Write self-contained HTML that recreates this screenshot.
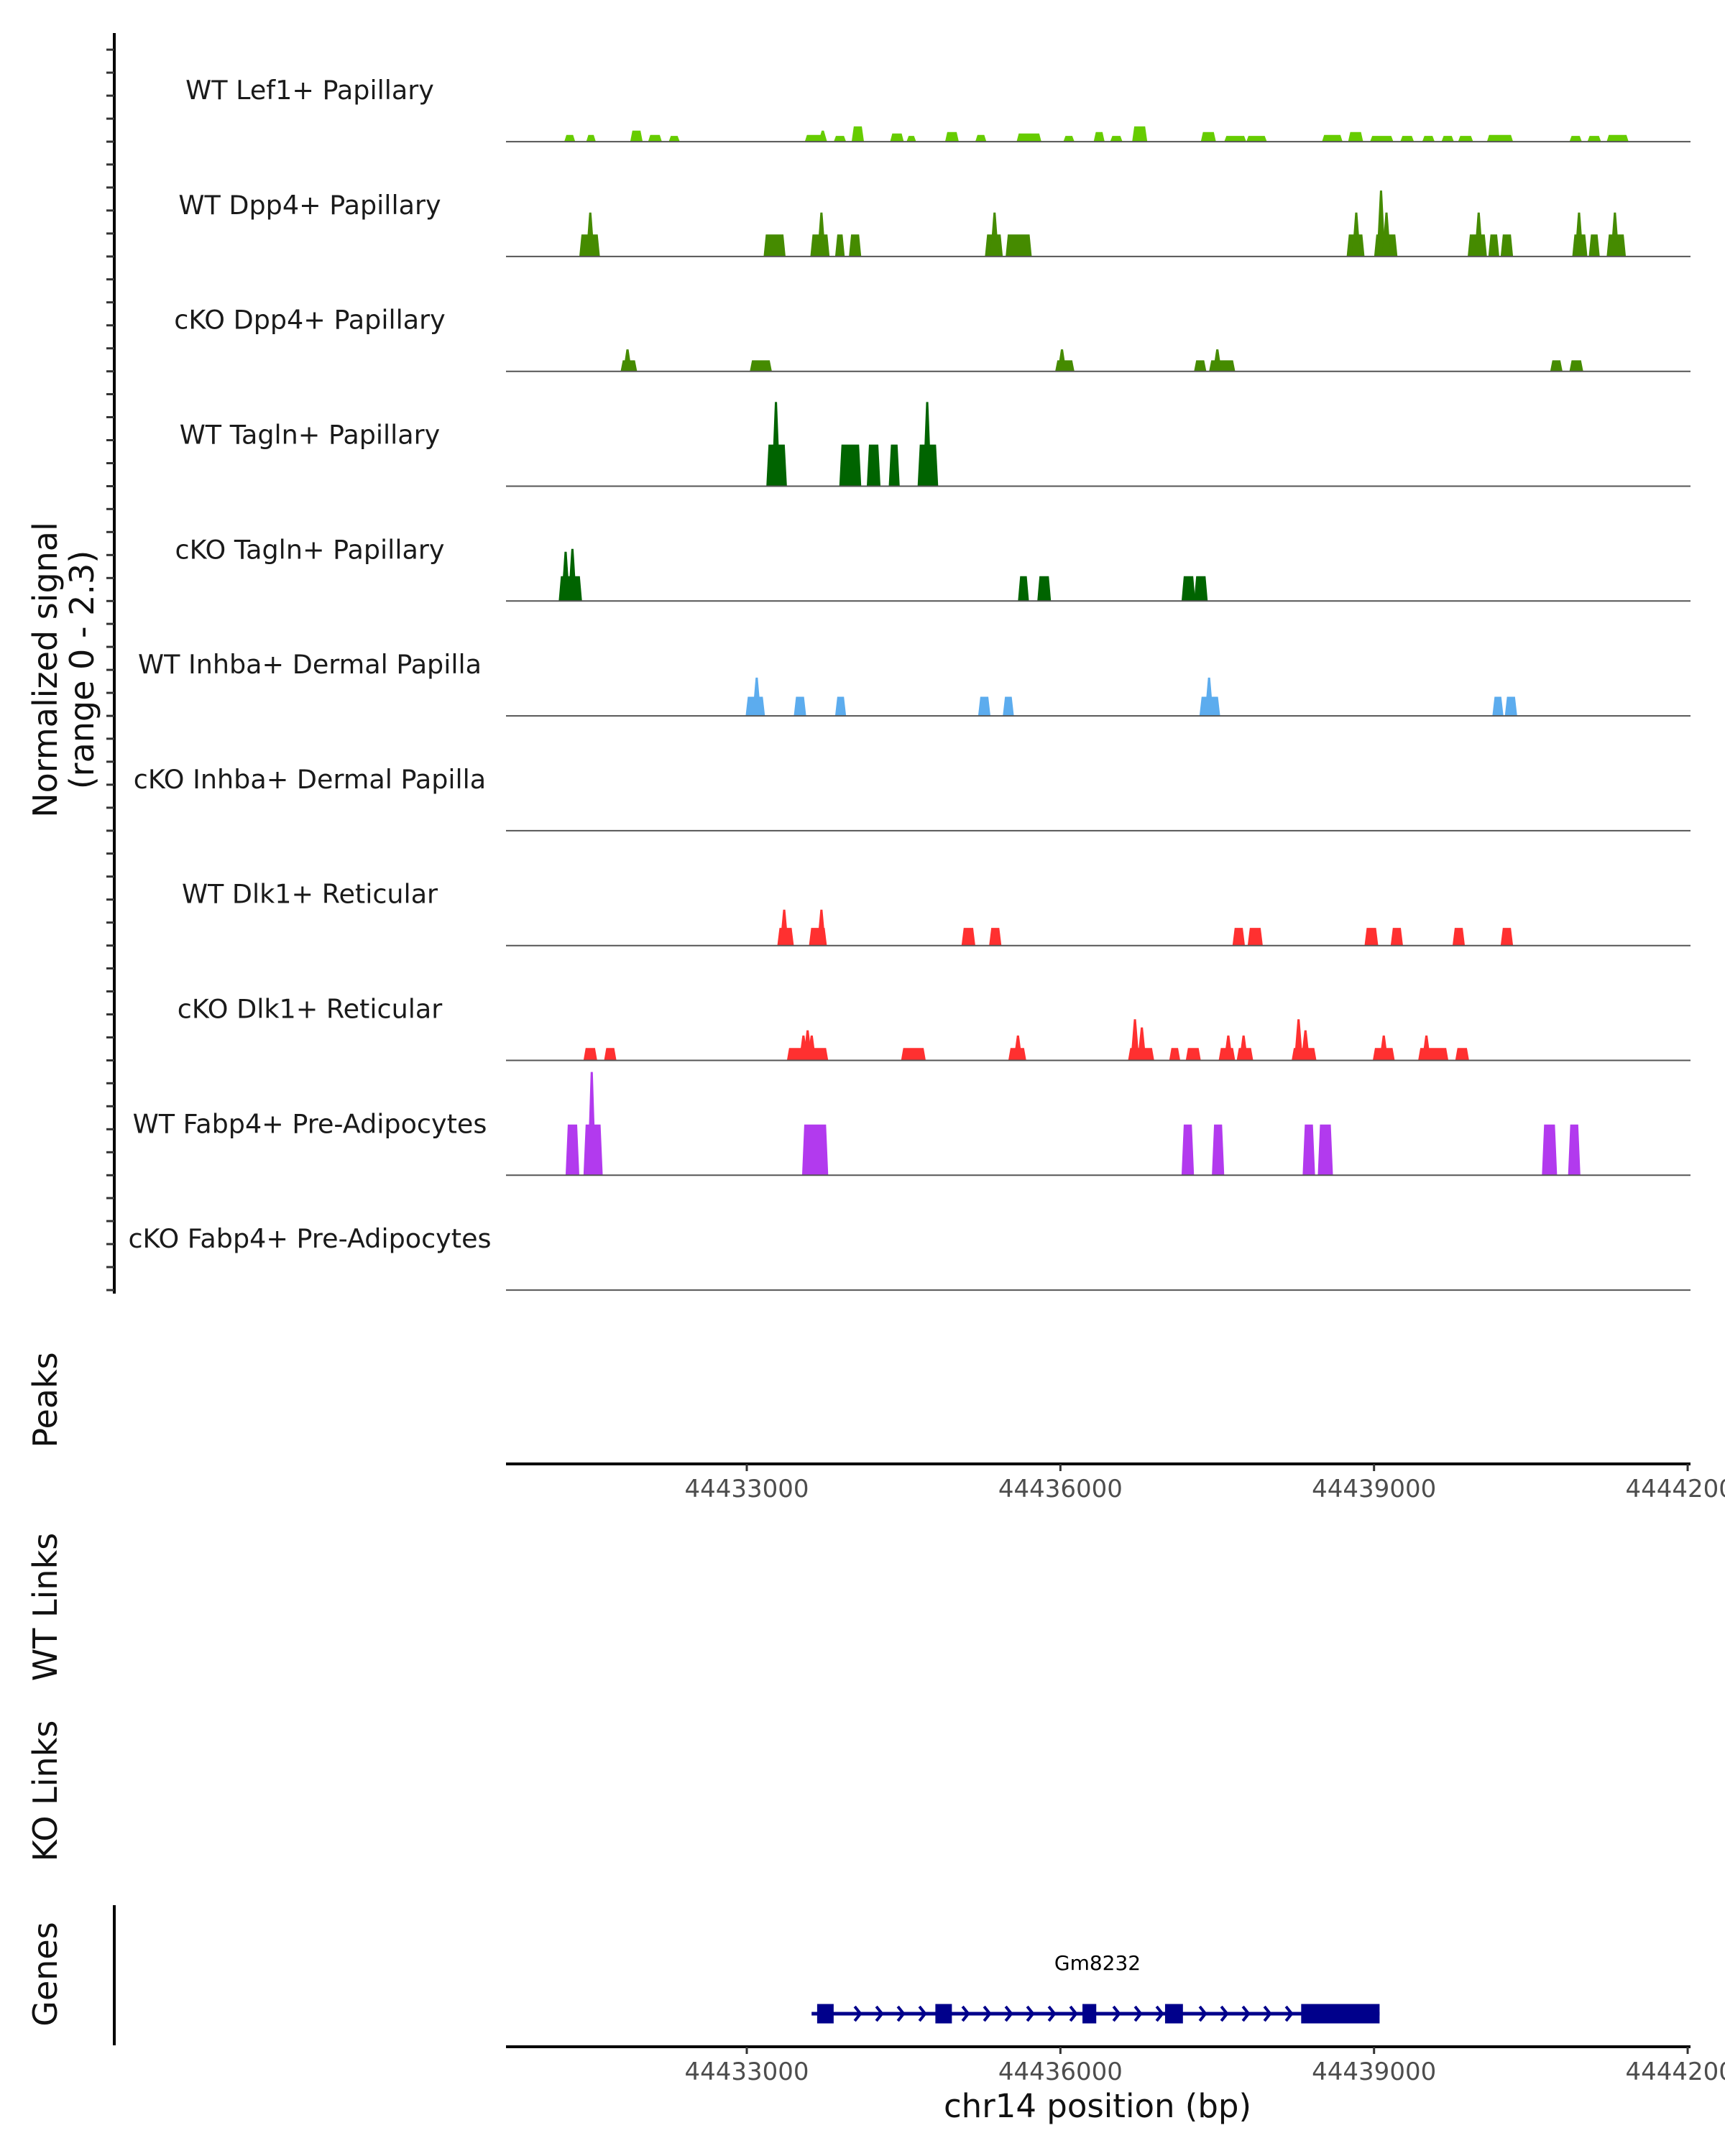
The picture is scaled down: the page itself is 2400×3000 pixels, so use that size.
<!DOCTYPE html>
<html><head><meta charset="utf-8"><style>
html,body{margin:0;padding:0;background:#fff;}
svg{display:block;font-family:"DejaVu Sans","Liberation Sans",sans-serif;}
</style></head><body>
<svg id="chart" width="2400" height="3000" viewBox="0 0 2400 3000" xmlns="http://www.w3.org/2000/svg" overflow="hidden">
<rect width="2400" height="3000" fill="#fff"/>
<g id="tracks"></g>
<g id="axes"></g>
<g id="genes"></g>
<text transform="translate(79,932) rotate(-90)" text-anchor="middle" font-size="46" fill="#111">Normalized signal</text>
<text transform="translate(130,932) rotate(-90)" text-anchor="middle" font-size="46" fill="#111">(range 0 - 2.3)</text>
<text transform="translate(79,1948) rotate(-90)" text-anchor="middle" font-size="46" fill="#111">Peaks</text>
<text transform="translate(79,2236) rotate(-90)" text-anchor="middle" font-size="46" fill="#111">WT Links</text>
<text transform="translate(79,2492) rotate(-90)" text-anchor="middle" font-size="46" fill="#111">KO Links</text>
<text transform="translate(79,2747) rotate(-90)" text-anchor="middle" font-size="46" fill="#111">Genes</text>
<text x="1527" y="2946" text-anchor="middle" font-size="45" fill="#111">chr14 position (bp)</text>
</svg>
<script>
const trackNames = ["WT Lef1+ Papillary","WT Dpp4+ Papillary","cKO Dpp4+ Papillary","WT Tagln+ Papillary","cKO Tagln+ Papillary","WT Inhba+ Dermal Papilla","cKO Inhba+ Dermal Papilla","WT Dlk1+ Reticular","cKO Dlk1+ Reticular","WT Fabp4+ Pre-Adipocytes","cKO Fabp4+ Pre-Adipocytes"];
const trackColors = ["#66CC00","#458B00","#458B00","#006400","#006400","#5CACEE","#5CACEE","#FF3030","#FF3030","#B23AEE","#B23AEE"];
// segments: [start bp, end bp, value]
const segLef1 = [[44431254,44431359,0.14],[44431464,44431556,0.14],[44431885,44432004,0.23],[44432056,44432188,0.14],[44432253,44432359,0.12],[44433555,44433753,0.14],[44433832,44433950,0.12],[44434003,44434121,0.32],[44434371,44434502,0.17],[44434528,44434620,0.12],[44434897,44435028,0.2],[44435186,44435292,0.14],[44435581,44435818,0.17],[44436028,44436134,0.12],[44436318,44436423,0.2],[44436476,44436594,0.12],[44436686,44436831,0.32],[44437343,44437488,0.2],[44437567,44437778,0.12],[44437778,44437975,0.12],[44438502,44438699,0.14],[44438752,44438896,0.2],[44438962,44439185,0.12],[44439251,44439382,0.12],[44439461,44439580,0.12],[44439645,44439764,0.12],[44439804,44439948,0.12],[44440080,44440330,0.14],[44440869,44440988,0.12],[44441041,44441172,0.12],[44441225,44441435,0.14]];
const spkLef1 = [[44433727,0.23]];
const segDpp4WT = [[44431398,44431595,0.46],[44433161,44433371,0.46],[44433608,44433792,0.46],[44433845,44433937,0.46],[44433977,44434095,0.46],[44435278,44435449,0.46],[44435476,44435726,0.46],[44438738,44438909,0.46],[44439001,44439224,0.46],[44439896,44440080,0.46],[44440093,44440198,0.46],[44440211,44440330,0.46],[44440896,44441041,0.46],[44441054,44441159,0.46],[44441225,44441409,0.46]];
const spkDpp4WT = [[44431503,0.92],[44433714,0.92],[44435370,0.92],[44438830,0.92],[44439067,1.38],[44439119,0.92],[44440001,0.92],[44440961,0.92],[44441304,0.92]];
const segDpp4KO = [[44431793,44431951,0.23],[44433029,44433240,0.23],[44435950,44436134,0.23],[44437278,44437396,0.23],[44437422,44437672,0.23],[44440685,44440803,0.23],[44440869,44441001,0.23]];
const spkDpp4KO = [[44431859,0.46],[44436015,0.46],[44437501,0.46]];
const segTaglnWT = [[44433187,44433384,0.87],[44433885,44434095,0.87],[44434148,44434279,0.87],[44434358,44434463,0.87],[44434634,44434831,0.87]];
const spkTaglnWT = [[44433279,1.76],[44434726,1.76]];
const segTaglnKO = [[44431201,44431424,0.52],[44435594,44435699,0.52],[44435779,44435910,0.52],[44437159,44437291,0.52],[44437278,44437409,0.52]];
const spkTaglnKO = [[44431267,1.03],[44431332,1.09]];
const segInhbaWT = [[44432989,44433174,0.4],[44433450,44433568,0.4],[44433845,44433950,0.4],[44435213,44435331,0.4],[44435449,44435555,0.4],[44437330,44437528,0.4],[44440132,44440238,0.4],[44440251,44440369,0.4]];
const spkInhbaWT = [[44433095,0.8],[44437422,0.8]];
const segInhbaKO = [];
const spkInhbaKO = [];
const segDlk1WT = [[44433292,44433450,0.37],[44433595,44433766,0.37],[44435054,44435186,0.37],[44435318,44435436,0.37],[44437646,44437765,0.37],[44437791,44437936,0.37],[44438909,44439040,0.37],[44439159,44439277,0.37],[44439751,44439869,0.37],[44440211,44440330,0.37]];
const spkDlk1WT = [[44433358,0.75],[44433714,0.75]];
const segDlk1KO = [[44431438,44431569,0.26],[44431635,44431753,0.26],[44433384,44433779,0.26],[44434476,44434712,0.26],[44435502,44435673,0.26],[44436647,44436897,0.26],[44437041,44437146,0.26],[44437199,44437343,0.26],[44437514,44437672,0.26],[44437686,44437844,0.26],[44438212,44438449,0.26],[44438988,44439198,0.26],[44439422,44439711,0.26],[44439777,44439909,0.26]];
const spkDlk1KO = [[44433542,0.52],[44433582,0.63],[44433621,0.52],[44435594,0.52],[44436713,0.86],[44436779,0.69],[44437606,0.52],[44437752,0.52],[44438278,0.86],[44438344,0.63],[44439093,0.52],[44439501,0.52]];
const segFabp4WT = [[44431267,44431398,1.06],[44431438,44431622,1.06],[44433529,44433779,1.06],[44437159,44437278,1.06],[44437449,44437567,1.06],[44438317,44438436,1.06],[44438462,44438607,1.06],[44440606,44440751,1.06],[44440856,44440974,1.06]];
const spkFabp4WT = [[44431517,2.16]];
const segFabp4KO = [];
const spkFabp4KO = [];
const trackSegs = [segLef1,segDpp4WT,segDpp4KO,segTaglnWT,segTaglnKO,segInhbaWT,segInhbaKO,segDlk1WT,segDlk1KO,segFabp4WT,segFabp4KO];
const trackSpikes = [spkLef1,spkDpp4WT,spkDpp4KO,spkTaglnWT,spkTaglnKO,spkInhbaWT,spkInhbaKO,spkDlk1WT,spkDlk1KO,spkFabp4WT,spkFabp4KO];
const xTicks = [44433000,44436000,44439000,44442000];
const xTickLabels = ["44433000","44436000","44439000","44442000"];
const geneName = "Gm8232";
const geneStart = 44433620;
const geneEnd = 44439053;
const exonStarts = [44433673,44434804,44436211,44437001,44438303];
const exonEnds = [44433831,44434962,44436343,44437172,44439053];
const signalMax = 2.3;

const NS = "http://www.w3.org/2000/svg";
const X0 = 704, X1 = 2352;
function xScale(bp){ return 1039 + (bp - 44433000) * 0.14545; }
const base0 = 197.1, step = 159.8, trackPx = 153;
function yScale(v, i){ return base0 + i*step - v/signalMax*trackPx; }
function mk(tag, attrs, parent){ const e = document.createElementNS(NS, tag); for (const k in attrs) e.setAttribute(k, attrs[k]); parent.appendChild(e); return e; }

const gT = document.getElementById('tracks');
trackNames.forEach((name, i) => {
  const base = base0 + i*step;
  const g = mk('g', {}, gT);
  
  
  const lab = mk('text', {x: 431, y: base - 59, 'text-anchor': 'middle', 'font-size': 36.5, fill: '#1a1a1a'}, g);
  lab.textContent = name;
  
  
  trackSegs[i].forEach(s => {
    const xa = xScale(s[0]), xb = xScale(s[1]), yt = yScale(s[2], i);
    const p = mk('polygon', {points: `${xa},${base} ${xa+3},${yt} ${xb-3},${yt} ${xb},${base}`, fill: trackColors[i]}, g);
    
    
  });
  trackSpikes[i].forEach(s => {
    const xc = xScale(s[0]), yt = yScale(s[1], i);
    const p = mk('polygon', {points: `${xc-6},${base} ${xc-1.5},${yt} ${xc+1.5},${yt} ${xc+6},${base}`, fill: trackColors[i]}, g);
    
    
  });
  const bl = mk('line', {x1: X0, x2: X1, y1: base, y2: base, stroke: '#555', 'stroke-width': 2}, g);
  
  
});

const gA = document.getElementById('axes');
const ya = mk('line', {x1: 159, x2: 159, y1: 46, y2: 1800, stroke: '#000', 'stroke-width': 4}, gA);


for (let i = 0; i < trackNames.length; i++) {
  for (let k = 0; k < 5; k++) {
    const y = base0 + i*step - k*32;
    const t = mk('line', {x1: 148, x2: 159, y1: y, y2: y, stroke: '#333', 'stroke-width': 3}, gA);
    
    
  }
}
[2037, 2848].forEach((yy, j) => {
  const ax = mk('line', {x1: X0, x2: X1, y1: yy, y2: yy, stroke: '#000', 'stroke-width': 4}, gA);
  
  
  xTicks.forEach((t, k) => {
    const x = xScale(t);
    const tk = mk('line', {x1: x, x2: x, y1: yy, y2: yy + 10, stroke: '#333', 'stroke-width': 3}, gA);
    
    
    const tl = mk('text', {x: x, y: yy + 46, 'text-anchor': 'middle', 'font-size': 34, fill: '#4d4d4d'}, gA);
    tl.textContent = xTickLabels[k];
    
    
  });
});
const gaxis = mk('line', {x1: 159, x2: 159, y1: 2651, y2: 2846, stroke: '#000', 'stroke-width': 4}, gA);



const gG = document.getElementById('genes');
const gy = 2802, col = '#00008B';
const gl = mk('line', {x1: xScale(geneStart), x2: xScale(geneEnd), y1: gy, y2: gy, stroke: col, 'stroke-width': 5}, gG);


for (let x = xScale(geneStart) + 4; x < xScale(geneEnd) - 10; x += 30) {
  let inEx = false;
  exonStarts.forEach((s, k) => { if (x > xScale(s) - 6 && x < xScale(exonEnds[k]) + 6) inEx = true; });
  if (inEx) continue;
  const c = mk('polyline', {points: `${x-4},${gy-10} ${x+4},${gy} ${x-4},${gy+10}`, fill: 'none', stroke: col, 'stroke-width': 4}, gG);
  
  
}
exonStarts.forEach((s, k) => {
  const r = mk('rect', {x: xScale(s), y: gy - 13.5, width: xScale(exonEnds[k]) - xScale(s), height: 27, fill: col}, gG);
  
  
});
const gn = mk('text', {x: 1527, y: 2741, 'text-anchor': 'middle', 'font-size': 28, fill: '#000'}, gG);
gn.textContent = geneName;


</script>
</body></html>
